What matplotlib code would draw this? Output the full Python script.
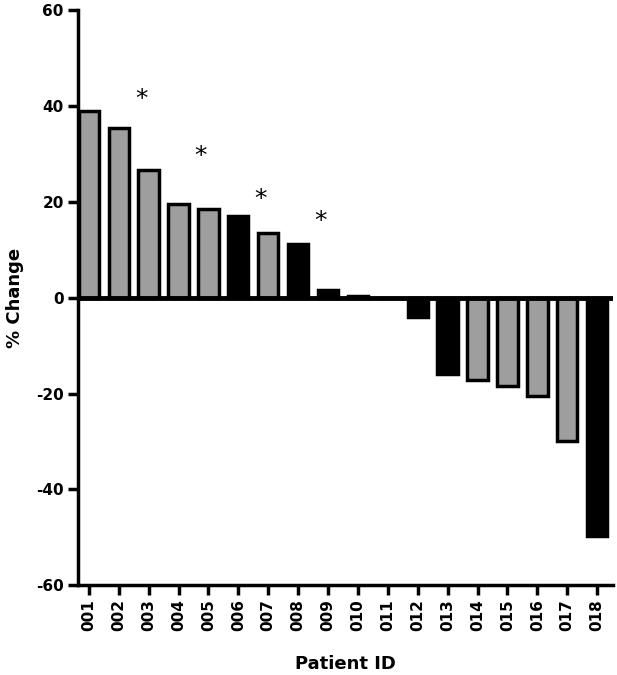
import matplotlib
matplotlib.use("Agg")
import matplotlib.pyplot as plt

patients = ["001", "002", "003", "004", "005", "006", "007", "008", "009",
            "010", "011", "012", "013", "014", "015", "016", "017", "018"]
pct_change = [39.0, 35.3, 26.7, 19.6, 18.4, 17.1, 13.4, 11.1, 1.5,
              0.3, 0.0, -4.0, -15.9, -17.1, -18.4, -20.5, -30.0, -49.7]
group = ["g", "g", "g", "g", "g", "b", "g", "b", "b",
         "g", "g", "b", "b", "g", "g", "g", "g", "b"]
star_pos = [1.75, 3.75, 5.75, 7.75]
star_y = [41.5, 29.5, 20.5, 16.0]
yticks = [-60, -40, -20, 0, 20, 40, 60]

plt.rcParams['font.family'] = ['DejaVu Sans']

fig = plt.figure(figsize=(6.17, 6.75), dpi=100)
ax = fig.add_axes([0.126, 0.133, 0.868, 0.852])

colors = ['#9e9e9e' if g == 'g' else 'black' for g in group]
x = list(range(len(patients)))
ax.bar(x, pct_change, width=0.68, color=colors, edgecolor='black', linewidth=2.5)
ax.axhline(0, color='black', linewidth=3.5, zorder=3)

for sx, sy in zip(star_pos, star_y):
    ax.text(sx, sy, '*', ha='center', va='center', fontsize=18, color='black')

ax.set_xlim(-0.37, 17.54)
ax.set_ylim(-60, 60)
ax.set_yticks(yticks)
ax.set_yticklabels([str(t) for t in yticks], fontsize=11, fontweight='bold')
ax.set_xticks(x)
ax.set_xticklabels(patients, rotation=90, fontsize=11, fontweight='bold')

for s in ['top', 'right']:
    ax.spines[s].set_visible(False)
for s in ['left', 'bottom']:
    ax.spines[s].set_linewidth(2.5)
ax.tick_params(axis='both', width=2.5, length=7, direction='out', pad=3)

ax.set_ylabel('% Change', fontsize=13, fontweight='bold')
ax.yaxis.set_label_coords(-0.1, 0.5)
ax.set_xlabel('Patient ID', fontsize=13, fontweight='bold')
ax.xaxis.set_label_coords(0.5, -0.122)

fig.savefig('out.png', dpi=100)
